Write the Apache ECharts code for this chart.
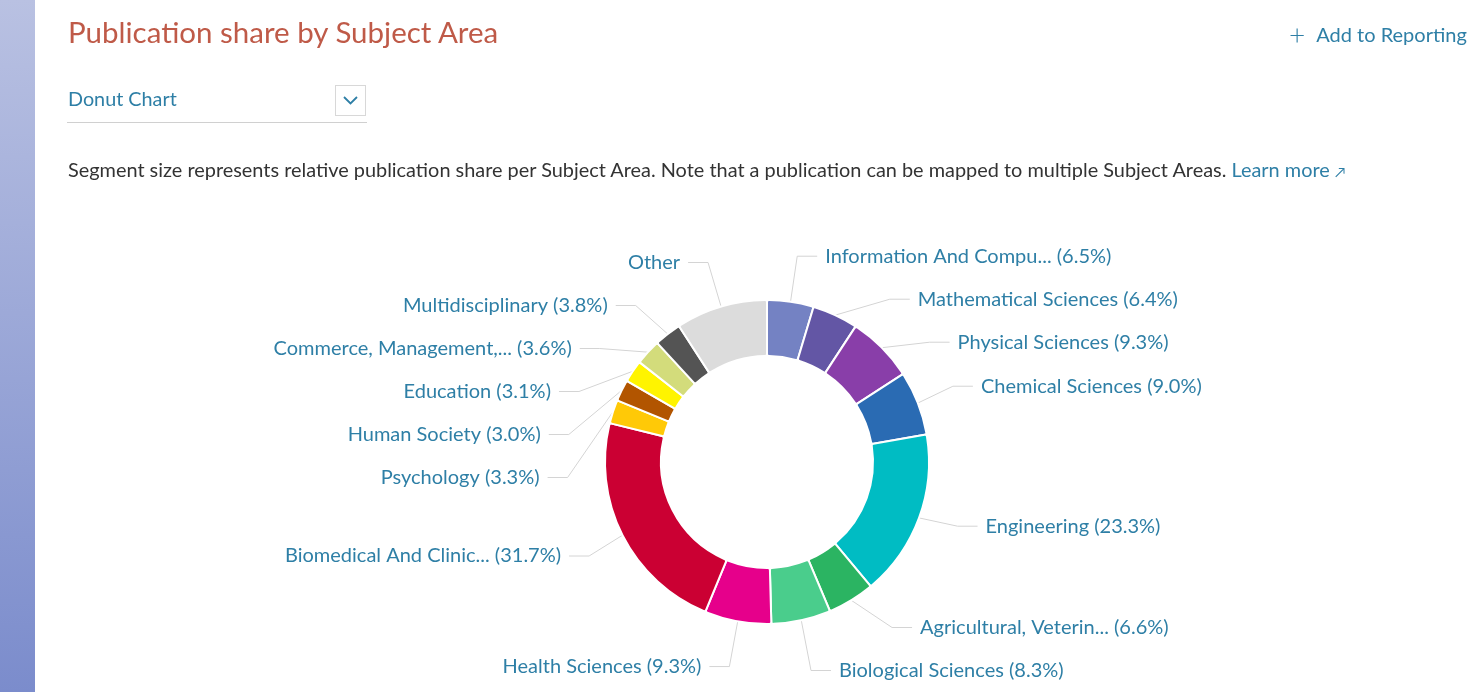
<!DOCTYPE html>
<html>
<head>
<meta charset="utf-8">
<script src="https://cdn.jsdelivr.net/npm/echarts@6/dist/echarts.min.js"></script>
<style>
  html, body { margin:0; padding:0; width:1479px; height:692px; overflow:hidden; background:#fff; font-family: Lato, "Open Sans", sans-serif; }
  #side { position:absolute; left:0; top:0; width:35px; height:692px; background:linear-gradient(#b9c1e2, #7b8ccc); }
  #title { position:absolute; left:68px; top:14px; font-size:29.5px; color:#bf5a48; white-space:nowrap; }
  #add { position:absolute; left:1289px; top:17px; font-size:20px; color:#2e7fa6; white-space:nowrap; }
  #add span { font-size:28px; vertical-align:-3px; margin-right:11px; font-weight:300; }
  #dd { position:absolute; left:68px; top:86px; font-size:19.8px; color:#2e7fa6; }
  #ddbox { position:absolute; left:335px; top:85px; width:31px; height:31px; border:1px solid #d8d8d8; box-sizing:border-box; }
  #ddline { position:absolute; left:67px; top:122px; width:300px; height:1px; background:#d0d0d0; }
  #desc { position:absolute; left:68px; top:157px; font-size:19.9px; color:#333; white-space:nowrap; }
  #desc a { color:#2e7fa6; text-decoration:none; }
  #chart { position:absolute; left:0; top:0; width:1479px; height:692px; }
</style>
</head>
<body>
<div id="side"></div>
<div id="chart"></div>
<div id="title">Publication share by Subject Area</div>
<div id="add"><span>+</span>Add to Reporting</div>
<div id="dd">Donut Chart</div>
<div id="ddbox"><svg width="29" height="29" viewBox="0 0 29 29"><polyline points="8,11 14.5,17.5 21,11" fill="none" stroke="#2e7fa6" stroke-width="1.8"/></svg></div>
<div id="ddline"></div>
<div id="desc">Segment size represents relative publication share per Subject Area. Note that a publication can be mapped to multiple Subject Areas. <a>Learn more <span style="font-size:14px">&#8599;</span></a></div>
<script>
const categories = [
  "Information And Compu...", "Mathematical Sciences", "Physical Sciences", "Chemical Sciences",
  "Engineering", "Agricultural, Veterin...", "Biological Sciences", "Health Sciences",
  "Biomedical And Clinic...", "Psychology", "Human Society", "Education",
  "Commerce, Management,...", "Multidisciplinary", "Other"
];
// displayed share (%); Other has no printed share
const shares = [6.5, 6.4, 9.3, 9.0, 23.3, 6.6, 8.3, 9.3, 31.7, 3.3, 3.0, 3.1, 3.6, 3.8, null];
// segment sizes (Other estimated from its arc in the picture)
const segmentValues = [6.5, 6.4, 9.3, 9.0, 23.3, 6.6, 8.3, 9.3, 31.7, 3.3, 3.0, 3.1, 3.6, 3.8, 12.8];
const colors = [
  "#7482c3", "#6356a5", "#893ea9", "#2a6bb3", "#00bcc3", "#2bb462", "#4acd8c", "#e6008b",
  "#cb0033", "#ffc907", "#b25500", "#fff400", "#d3dc7b", "#545454", "#dcdcdc"
];

const chart = echarts.init(document.getElementById('chart'), null, {renderer:'canvas'});
const data = categories.map((c, i) => ({
  name: c,
  value: segmentValues[i],
  share: shares[i],
  itemStyle: { color: colors[i] }
}));
chart.setOption({
  animation: false,
  series: [{
    type: 'pie',
    center: [767, 462],
    radius: [106, 162],
    startAngle: 90,
    clockwise: true,
    avoidLabelOverlap: true,
    data: data,
    itemStyle: { borderColor: '#fff', borderWidth: 2, borderRadius: 2 },
    label: {
      show: true,
      position: 'outside',
      color: '#2e7fa6',
      fontSize: 20,
      lineHeight: 41,
      fontFamily: 'Lato',
      distanceToLabelLine: 8,
      formatter: p => p.data.share == null ? p.name : p.name + ' (' + p.data.share.toFixed(1) + '%)'
    },
    labelLine: { show: true, length: 46, length2: 20, lineStyle: { color: '#d4d4d4', width: 1 } },
    emphasis: { disabled: true }
  }]
});
</script>
</body>
</html>
